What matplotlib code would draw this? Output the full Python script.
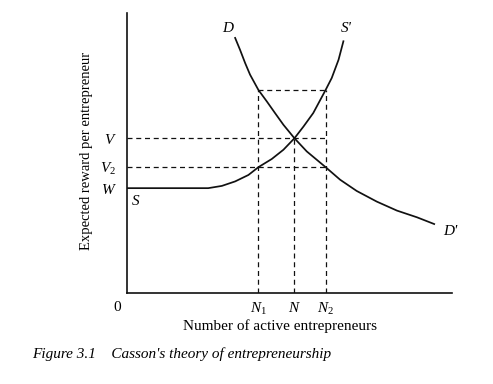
import matplotlib
matplotlib.use("Agg")
import matplotlib.pyplot as plt

plt.rcParams['font.family'] = ['Liberation Serif', 'DejaVu Serif']
plt.rcParams['mathtext.fontset'] = 'custom'
plt.rcParams['mathtext.rm'] = 'Liberation Serif'
plt.rcParams['mathtext.it'] = 'Liberation Serif:italic'

# demand curve D-D' (number of entrepreneurs, expected reward)
d_x = [3.32, 3.47, 3.63, 3.78, 4.04, 4.30, 4.55, 4.81, 5.15, 5.53, 6.11,
       6.56, 7.07, 7.69, 8.31, 8.93, 9.46]
d_y = [9.10, 8.68, 8.20, 7.79, 7.24, 6.83, 6.42, 6.00, 5.52, 5.05, 4.49,
       4.04, 3.64, 3.26, 2.94, 2.70, 2.46]
# supply curve S-S'
s_x = [0.0, 2.49, 2.91, 3.32, 3.73, 4.04, 4.45, 4.81, 5.15, 5.43, 5.73,
       6.11, 6.30, 6.51, 6.66]
s_y = [3.74, 3.74, 3.82, 3.98, 4.21, 4.49, 4.78, 5.11, 5.52, 5.94, 6.42,
       7.24, 7.67, 8.32, 8.98]

# reference levels
n_pos = [4.04, 5.15, 6.11]
n_labels = ['$N_1$', '$N$', '$N_2$']
v_pos = [5.52, 4.49, 3.74]
v_labels = ['$V$', '$V_2$', '$W$']
v_top = 7.24

fig = plt.figure(figsize=[4.93, 3.84], dpi=100)
ax = fig.add_axes([0.2586, 0.237, 0.6576, 0.730])
ax.set_xlim(0, 10)
ax.set_ylim(0, 10)

ink = '#111111'
ax.plot(d_x, d_y, color=ink, linewidth=1.25)
ax.plot(s_x, s_y, color=ink, linewidth=1.25)

dash = dict(color=ink, linewidth=0.9, linestyle=(0, (4, 3)))
# horizontal guides
ax.plot([0, n_pos[2]], [v_pos[0], v_pos[0]], **dash)
ax.plot([0, n_pos[2]], [v_pos[1], v_pos[1]], **dash)
ax.plot([n_pos[0], n_pos[2]], [v_top, v_top], **dash)
# vertical guides
ax.plot([n_pos[0], n_pos[0]], [0, v_top], **dash)
ax.plot([n_pos[1], n_pos[1]], [0, v_pos[0]], **dash)
ax.plot([n_pos[2], n_pos[2]], [0, v_top], **dash)

ax.spines['top'].set_visible(False)
ax.spines['right'].set_visible(False)
ax.spines['left'].set_color(ink)
ax.spines['bottom'].set_color(ink)
ax.spines['left'].set_linewidth(1.2)
ax.spines['bottom'].set_linewidth(1.2)

ax.set_xticks(n_pos)
ax.set_xticklabels(n_labels, fontsize=11)
ax.set_yticks(v_pos)
ax.set_yticklabels(v_labels, fontsize=11)
ax.tick_params(length=0)
ax.tick_params(axis='x', pad=6)
ax.tick_params(axis='y', pad=8)

ax.text(-0.33, -0.5, '0', fontsize=11, ha='center', va='center')

lab = dict(fontsize=11, fontstyle='italic')
ax.text(3.10, 9.45, 'D', ha='center', va='center', **lab)
ax.text(6.75, 9.45, "S'", ha='center', va='center', **lab)
ax.text(9.95, 2.20, "D'", ha='center', va='center', **lab)
ax.text(0.25, 3.25, 'S', ha='center', va='center', **lab)

ax.set_xlabel('Number of active entrepreneurs', fontsize=11)
ax.xaxis.set_label_coords(0.47, -0.095)
ax.set_ylabel('Expected reward per entrepreneur', fontsize=10.5)
ax.yaxis.set_label_coords(-0.105, 0.507)

fig.text(32 / 493, 1 - 354 / 384, "Figure 3.1    Casson's theory of entrepreneurship",
         fontsize=11, fontstyle='italic', ha='left', va='center')

fig.savefig('out.png', dpi=100)
